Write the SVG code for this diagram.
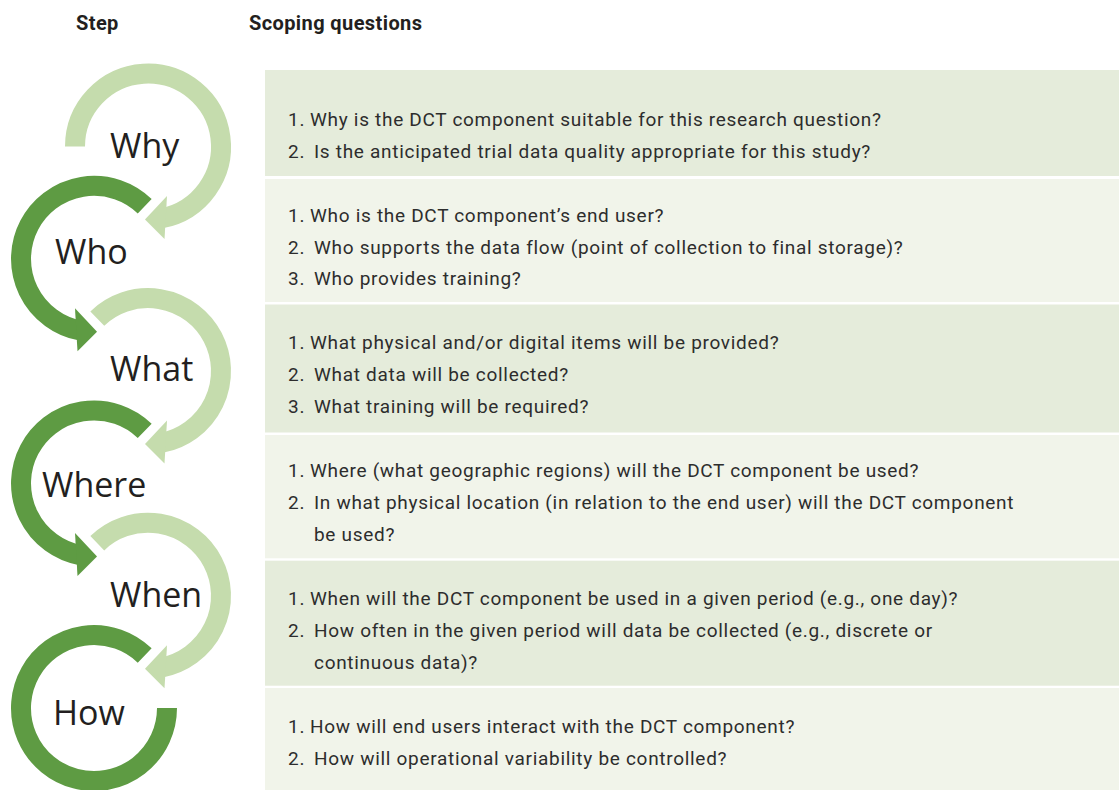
<svg xmlns="http://www.w3.org/2000/svg" xmlns:xlink="http://www.w3.org/1999/xlink" width="1119" height="790" viewBox="0 0 1119 790">
  <style>
    .hdr { font-family: Roboto, "Liberation Sans", sans-serif; font-weight: 700; font-size: 20px; letter-spacing: 0.4px; fill: #231f20; }
    .step { font-family: "Open Sans", "Noto Sans", sans-serif; font-size: 34px; fill: #231f20; }
    .q { font-family: Roboto, "Liberation Sans", sans-serif; font-size: 19px; letter-spacing: 0.7px; fill: #2d2d2d; }
    .band-a { fill: #e5ecdb; }
    .band-b { fill: #f1f4ea; }
    .light { color: #c5dcad; }
    .dark { color: #5e9b43; }
    .ring { fill: none; stroke: currentColor; stroke-width: 20; }
    .head { fill: currentColor; }
  </style>
  <defs>
    <!-- circular arrow centred on the origin: arc runs clockwise from upper-left to the bottom, arrowhead points left -->
    <g id="loop-arrow">
      <path class="ring" d="M-50.7,-52.5 A73,73 0 1 1 13.9,71.7"/>
      <polygon class="head" points="-3,73 19,49.5 16.5,92.5"/>
    </g>
  </defs>

  <!-- column headings -->
  <g id="headings">
    <text class="hdr" x="76" y="30">Step</text>
    <text class="hdr" x="249" y="30">Scoping questions</text>
  </g>

  <!-- question bands -->
  <g id="bands">
    <rect class="band-a" x="265" y="70" width="854" height="106"/>
    <rect class="band-b" x="265" y="179" width="854" height="123"/>
    <rect class="band-a" x="265" y="304.5" width="854" height="128"/>
    <rect class="band-b" x="265" y="435" width="854" height="123.3"/>
    <rect class="band-a" x="265" y="560.7" width="854" height="125"/>
    <rect class="band-b" x="265" y="688" width="854" height="102"/>
  </g>

  <!-- step loops -->
  <g id="connectors">
    <g class="light" transform="translate(148,146.5)">
      <path class="ring" d="M-73,0 A73,73 0 1 1 13.9,71.7"/>
      <polygon class="head" points="-3,73 19,49.5 16.5,92.5"/>
    </g>
    <use class="dark" xlink:href="#loop-arrow" transform="translate(94,258.8) scale(-1,1)"/>
    <use class="light" xlink:href="#loop-arrow" transform="translate(148,371.1)"/>
    <use class="dark" xlink:href="#loop-arrow" transform="translate(94,483.4) scale(-1,1)"/>
    <use class="light" xlink:href="#loop-arrow" transform="translate(148,595.7)"/>
    <g class="dark" transform="translate(94,708)">
      <path class="ring" d="M50.7,-52.5 A73,73 0 1 0 73,0"/>
    </g>
  </g>

  <g id="why">
    <text class="step" x="110" y="158">Why</text>
    <text class="q" y="126"><tspan x="288">1.</tspan><tspan x="310">Why is the DCT component suitable for this research question?</tspan></text>
    <text class="q" y="158"><tspan x="288">2.</tspan><tspan x="314">Is the anticipated trial data quality appropriate for this study?</tspan></text>
  </g>

  <g id="who">
    <text class="step" x="55" y="264">Who</text>
    <text class="q" y="222"><tspan x="288">1.</tspan><tspan x="310">Who is the DCT component’s end user?</tspan></text>
    <text class="q" y="254"><tspan x="288">2.</tspan><tspan x="314">Who supports the data flow (point of collection to final storage)?</tspan></text>
    <text class="q" y="285"><tspan x="288">3.</tspan><tspan x="314">Who provides training?</tspan></text>
  </g>

  <g id="what">
    <text class="step" x="110" y="381">What</text>
    <text class="q" y="349"><tspan x="288">1.</tspan><tspan x="310">What physical and/or digital items will be provided?</tspan></text>
    <text class="q" y="381"><tspan x="288">2.</tspan><tspan x="314">What data will be collected?</tspan></text>
    <text class="q" y="413"><tspan x="288">3.</tspan><tspan x="314">What training will be required?</tspan></text>
  </g>

  <g id="where">
    <text class="step" x="42" y="497">Where</text>
    <text class="q" y="477"><tspan x="288">1.</tspan><tspan x="310">Where (what geographic regions) will the DCT component be used?</tspan></text>
    <text class="q" y="509"><tspan x="288">2.</tspan><tspan x="314">In what physical location (in relation to the end user) will the DCT component</tspan></text>
    <text class="q" y="541"><tspan x="314">be used?</tspan></text>
  </g>

  <g id="when">
    <text class="step" x="110" y="607">When</text>
    <text class="q" y="605"><tspan x="288">1.</tspan><tspan x="310">When will the DCT component be used in a given period (e.g., one day)?</tspan></text>
    <text class="q" y="637"><tspan x="288">2.</tspan><tspan x="314">How often in the given period will data be collected (e.g., discrete or</tspan></text>
    <text class="q" y="669"><tspan x="314">continuous data)?</tspan></text>
  </g>

  <g id="how">
    <text class="step" x="53" y="725">How</text>
    <text class="q" y="733"><tspan x="288">1.</tspan><tspan x="310">How will end users interact with the DCT component?</tspan></text>
    <text class="q" y="765"><tspan x="288">2.</tspan><tspan x="314">How will operational variability be controlled?</tspan></text>
  </g>
</svg>
